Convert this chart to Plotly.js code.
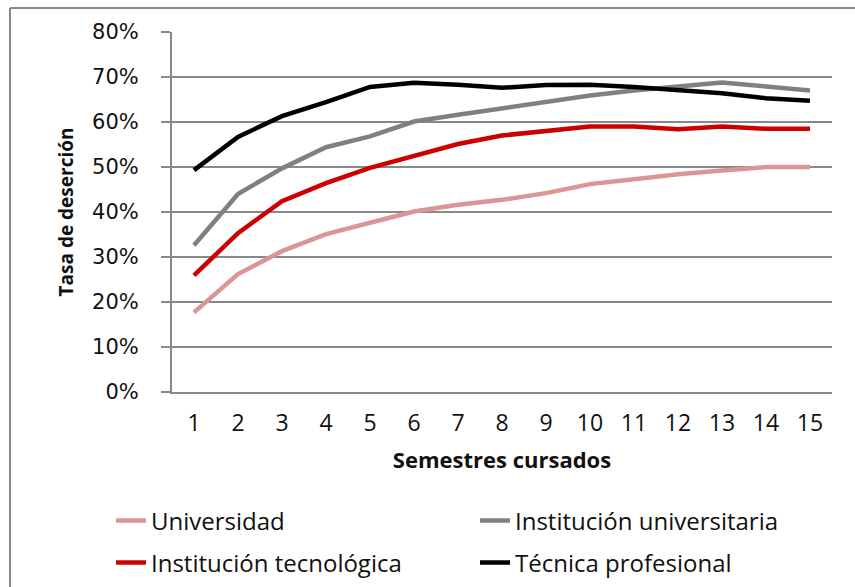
<!DOCTYPE html>
<html>
<head>
<meta charset="utf-8">
<script src="https://cdn.plot.ly/plotly-3.0.1.min.js"></script>
<style>
  html, body { margin: 0; padding: 0; background: #ffffff; }
  #chart { width: 855px; height: 587px; }
</style>
</head>
<body>
<div id="chart"></div>
<script>
// Semesters
const semestres = [1, 2, 3, 4, 5, 6, 7, 8, 9, 10, 11, 12, 13, 14, 15];

// Dropout rates (fractions)
const universidad = [0.177, 0.262, 0.313, 0.351, 0.376, 0.401, 0.416, 0.427, 0.442, 0.462, 0.473, 0.484, 0.492, 0.500, 0.500];
const institucionUniversitaria = [0.326, 0.440, 0.497, 0.544, 0.568, 0.601, 0.616, 0.631, 0.644, 0.659, 0.670, 0.679, 0.688, 0.679, 0.670];
const institucionTecnologica = [0.259, 0.353, 0.424, 0.464, 0.498, 0.525, 0.551, 0.570, 0.581, 0.590, 0.590, 0.584, 0.590, 0.585, 0.585];
const tecnicaProfesional = [0.493, 0.567, 0.613, 0.644, 0.678, 0.687, 0.683, 0.676, 0.682, 0.683, 0.678, 0.670, 0.664, 0.653, 0.647];

const names = ["Universidad", "Institución universitaria", "Institución tecnológica", "Técnica profesional"];
const yTickVals = [0, 0.1, 0.2, 0.3, 0.4, 0.5, 0.6, 0.7, 0.8];
const yTickText = ["0%", "10%", "20%", "30%", "40%", "50%", "60%", "70%", "80%"];

const gridGray = "#888888";

function series(y, name, color, legend) {
  return {
    x: semestres, y: y, name: name, type: "scatter", mode: "lines",
    line: { color: color, width: 4.5 },
    legend: legend, hoverinfo: "x+y+name"
  };
}

const data = [
  series(universidad, names[0], "#D99694", "legend"),
  series(institucionUniversitaria, names[1], "#808080", "legend"),
  series(institucionTecnologica, names[2], "#CC0000", "legend2"),
  series(tecnicaProfesional, names[3], "#000000", "legend2")
];

const legendFont = { family: "Open Sans, sans-serif", size: 24, color: "#111111" };

const layout = {
  width: 855, height: 587,
  margin: { l: 172, r: 23, t: 32, b: 195, autoexpand: false },
  paper_bgcolor: "#ffffff", plot_bgcolor: "#ffffff",
  showlegend: true,
  xaxis: {
    range: [0.5, 15.5],
    tickvals: semestres,
    ticktext: semestres.map(String),
    showgrid: false, zeroline: false,
    showline: true, linecolor: gridGray, linewidth: 2,
    ticks: "",
    ticklabelstandoff: 9,
    tickfont: { family: "Open Sans, sans-serif", size: 23, color: "#111111" },
    title: { text: "Semestres cursados", standoff: 16,
             font: { family: "Open Sans, sans-serif", size: 22, color: "#111111", weight: "bold" } },
    fixedrange: true
  },
  yaxis: {
    range: [0, 0.8],
    tickvals: yTickVals, ticktext: yTickText,
    showgrid: true, gridcolor: gridGray, gridwidth: 2,
    zeroline: false,
    showline: true, linecolor: gridGray, linewidth: 2,
    ticks: "outside", ticklen: 9, tickwidth: 2, tickcolor: gridGray,
    ticklabelstandoff: 18,
    tickfont: { family: "DejaVu Sans, Verdana, sans-serif", size: 21, color: "#111111" },
    title: { text: "Tasa de deserción", standoff: 13,
             font: { family: "Open Sans, sans-serif", size: 19, color: "#111111", weight: "bold" } },
    fixedrange: true
  },
  legend: {
    orientation: "h", xref: "paper", yref: "paper",
    x: -61 / 660, y: -129 / 360, xanchor: "left", yanchor: "middle",
    entrywidth: 319, entrywidthmode: "pixels",
    font: legendFont, bgcolor: "rgba(0,0,0,0)", borderwidth: 0
  },
  legend2: {
    orientation: "h", xref: "paper", yref: "paper",
    x: -61 / 660, y: -171 / 360, xanchor: "left", yanchor: "middle",
    entrywidth: 319, entrywidthmode: "pixels",
    font: legendFont, bgcolor: "rgba(0,0,0,0)", borderwidth: 0
  },
  shapes: [
    { type: "line", xref: "paper", yref: "paper", x0: -162 / 660, x1: -162 / 660, y0: 384 / 360, y1: -200 / 360,
      line: { color: gridGray, width: 2 } },
    { type: "line", xref: "paper", yref: "paper", x0: -162 / 660, x1: 700 / 660, y0: 384 / 360, y1: 384 / 360,
      line: { color: gridGray, width: 2 } }
  ]
};

Plotly.newPlot("chart", data, layout, { displayModeBar: false, staticPlot: true });
</script>
</body>
</html>
